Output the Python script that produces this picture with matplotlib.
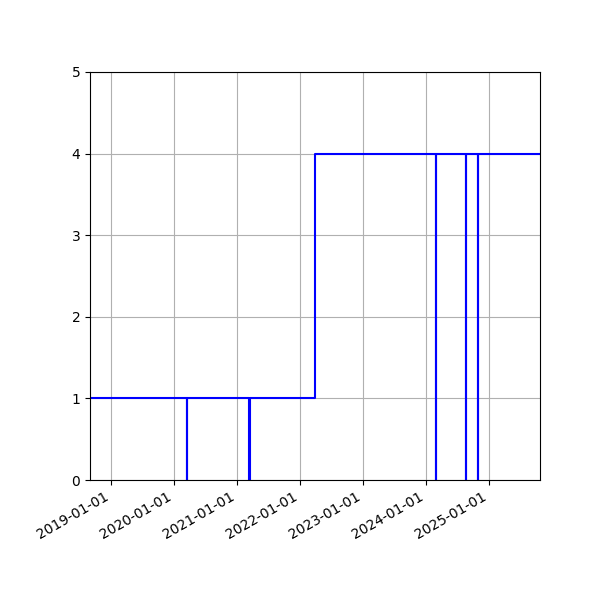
import matplotlib
matplotlib.use('Agg')
import matplotlib.pyplot as plt
import matplotlib.dates as mdates
import datetime as dt

# change points (step-post)
dates = ["2018-09-01", "2020-03-16", "2020-03-17", "2021-03-13", "2021-03-14",
         "2022-03-28", "2024-02-28", "2024-02-29", "2024-08-20", "2024-08-21",
         "2024-10-28", "2024-10-29", "2025-10-23"]
values = [1, 0, 1, 0, 1, 4, 0, 4, 0, 4, 0, 4, 4]

x = [dt.datetime.strptime(d, "%Y-%m-%d") for d in dates]

fig = plt.figure(figsize=(6, 6), dpi=100)
ax = fig.add_axes([0.15, 0.2, 0.75, 0.68])
ax.plot(x, values, drawstyle='steps-post', color='blue', linewidth=1.5)

ax.set_xlim(x[0], x[-1])
ax.set_ylim(0, 5)
ax.xaxis.set_major_locator(mdates.YearLocator())
ax.xaxis.set_major_formatter(mdates.DateFormatter('%Y-%m-%d'))
ax.grid(True)
for lbl in ax.get_xticklabels():
    lbl.set_rotation(30)
    lbl.set_ha('right')

fig.savefig('out.png')
